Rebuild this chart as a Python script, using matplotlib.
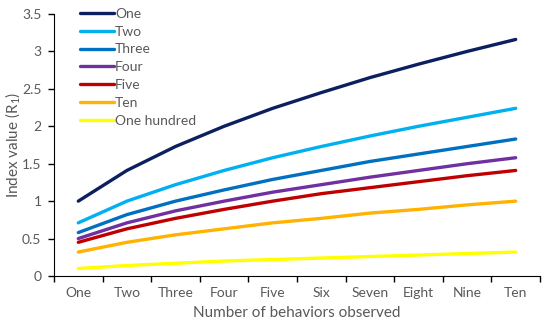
import matplotlib
matplotlib.use("Agg")
import matplotlib.pyplot as plt

categories = ["One", "Two", "Three", "Four", "Five", "Six", "Seven", "Eight", "Nine", "Ten"]
series_names = ["One", "Two", "Three", "Four", "Five", "Ten", "One hundred"]
one = [1.00, 1.41, 1.73, 2.00, 2.24, 2.45, 2.65, 2.83, 3.00, 3.16]
two = [0.71, 1.00, 1.22, 1.41, 1.58, 1.73, 1.87, 2.00, 2.12, 2.24]
three = [0.58, 0.82, 1.00, 1.15, 1.29, 1.41, 1.53, 1.63, 1.73, 1.83]
four = [0.50, 0.71, 0.87, 1.00, 1.12, 1.22, 1.32, 1.41, 1.50, 1.58]
five = [0.45, 0.63, 0.77, 0.89, 1.00, 1.10, 1.18, 1.26, 1.34, 1.41]
ten = [0.32, 0.45, 0.55, 0.63, 0.71, 0.77, 0.84, 0.89, 0.95, 1.00]
hundred = [0.10, 0.14, 0.17, 0.20, 0.22, 0.24, 0.26, 0.28, 0.30, 0.32]
colors = ["#0C1F5E", "#00B0F0", "#0070C0", "#7030A0", "#C00000", "#FFB300", "#FFFF00"]

plt.rcParams['font.family'] = ['Lato', 'DejaVu Sans']
plt.rcParams['mathtext.fontset'] = 'custom'
plt.rcParams['mathtext.rm'] = 'Lato'
gray = "#595959"

fig = plt.figure(figsize=(5.5, 3.28), dpi=100)
ax = fig.add_axes([54/550, 1 - 276/328, (540-54)/550, (276-14)/328])

x = list(range(len(categories)))
for name, vals, c in zip(series_names, [one, two, three, four, five, ten, hundred], colors):
    ax.plot(x, vals, color=c, lw=2.4, label=name, solid_capstyle='round')

ax.set_xlim(-0.5, len(categories) - 0.5)
ax.set_ylim(0, 3.5)
ax.set_yticks([0, 0.5, 1, 1.5, 2, 2.5, 3, 3.5])
ax.set_yticklabels(["0", "0.5", "1", "1.5", "2", "2.5", "3", "3.5"])
ax.set_xticks([i - 0.5 for i in range(len(categories) + 1)])
ax.set_xticklabels([])
ax.set_xticks(x, minor=True)
ax.set_xticklabels(categories, minor=True)
ax.tick_params(axis='x', which='minor', length=0, pad=8, labelsize=10, colors=gray)
ax.tick_params(axis='x', which='major', length=4, direction='out', color='black', width=1)
ax.tick_params(axis='y', length=4, direction='out', labelsize=10, colors=gray, width=1, pad=5)
ax.tick_params(axis='y', color='black')
for s in ['top', 'right']:
    ax.spines[s].set_visible(False)
ax.spines['left'].set_color('black')
ax.spines['bottom'].set_color('black')

ax.set_xlabel("Number of behaviors observed", fontsize=11, color=gray, labelpad=5)
ax.set_ylabel("Index value (R$_\\mathrm{1}$)", fontsize=11, color=gray, va='center')
ax.yaxis.set_label_coords(-41/486, 0.5)

leg = ax.legend(loc='upper left', bbox_to_anchor=(0.043, 1.045), frameon=False,
                fontsize=10, handlelength=2.4, handletextpad=0.1, labelspacing=0.42,
                borderaxespad=0)
for t in leg.get_texts():
    t.set_color(gray)

fig.savefig("out.png", dpi=100)
